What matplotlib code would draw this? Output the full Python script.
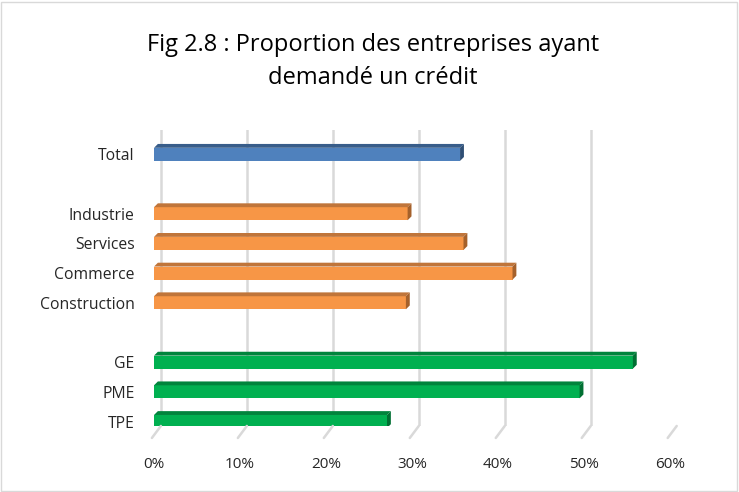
import matplotlib.pyplot as plt
from matplotlib.patches import Polygon, Rectangle
import matplotlib.transforms as mtransforms

plt.rcParams['font.family'] = ['Open Sans', 'DejaVu Sans']

# data (top to bottom, '' = empty slot)
labels = ['Total', '', 'Industrie', 'Services', 'Commerce', 'Construction',
          '', 'GE', 'PME', 'TPE']
values = [35.6, None, 29.5, 36.0, 41.7, 29.3, None, 55.7, 49.5, 27.1]
groups = ['total', None, 'sect', 'sect', 'sect', 'sect', None, 'size', 'size', 'size']
xticks = [0, 10, 20, 30, 40, 50, 60]

colors = {'total': ('#4F81BD', '#385D8A', '#2F4F75'),
          'sect': ('#F79646', '#C0753A', '#A5612B'),
          'size': ('#00B050', '#00843C', '#006F32')}

fig = plt.figure(figsize=(7.39, 4.92), dpi=100)
ax = fig.add_axes([0.2084, 0.1342, 0.698, 0.6016])

# light chart border
fig.patches.append(Rectangle((0.002, 0.003), 0.995, 0.993, transform=fig.transFigure,
                             fill=False, edgecolor='#D9D9D9', lw=1))

h = 0.22
dx = 0.45
dy = 0.13
for i, (v, g) in enumerate(zip(values, groups)):
    if v is None:
        continue
    front, top, side = colors[g]
    ax.add_patch(Rectangle((0, i - h), v, 2 * h, facecolor=front, edgecolor='none', zorder=3))
    ax.add_patch(Polygon([(0, i - h), (v, i - h), (v + dx, i - h - dy), (dx, i - h - dy)],
                         closed=True, facecolor=top, edgecolor='none', zorder=3))
    ax.add_patch(Polygon([(v, i - h), (v, i + h), (v + dx, i + h - dy), (v + dx, i - h - dy)],
                         closed=True, facecolor=side, edgecolor='none', zorder=3))

ax.set_xlim(0, 60)
ax.set_ylim(9.15, -0.82)

# gridlines (back wall) plus small floor feet
gx = 0.8
tr = mtransforms.blended_transform_factory(ax.transData, ax.transAxes)
for x in xticks:
    ax.axvline(x + gx, color='#D9D9D9', lw=1.8, zorder=1)
    ax.annotate('', xy=(x + gx, 0), xycoords=tr,
                xytext=(-9, -12), textcoords='offset pixels',
                arrowprops=dict(arrowstyle='-', color='#D9D9D9', lw=1.8,
                                shrinkA=0, shrinkB=0), annotation_clip=False)

ax.set_yticks(range(len(labels)))
ax.set_yticklabels(labels, fontsize=11.3, color='#262626')
ax.set_xticks(xticks)
ax.set_xticklabels([f'{t}%' for t in xticks], fontsize=11, color='#262626')
ax.tick_params(length=0)
ax.tick_params(axis='y', pad=14)
ax.tick_params(axis='x', pad=22)
for s in ax.spines.values():
    s.set_visible(False)

fig.text(0.505, 0.876, 'Fig 2.8 : Proportion des entreprises ayant\ndemandé un crédit',
         ha='center', va='center', fontsize=17, color='#000000', linespacing=1.5)

fig.savefig('out.png', dpi=100)
